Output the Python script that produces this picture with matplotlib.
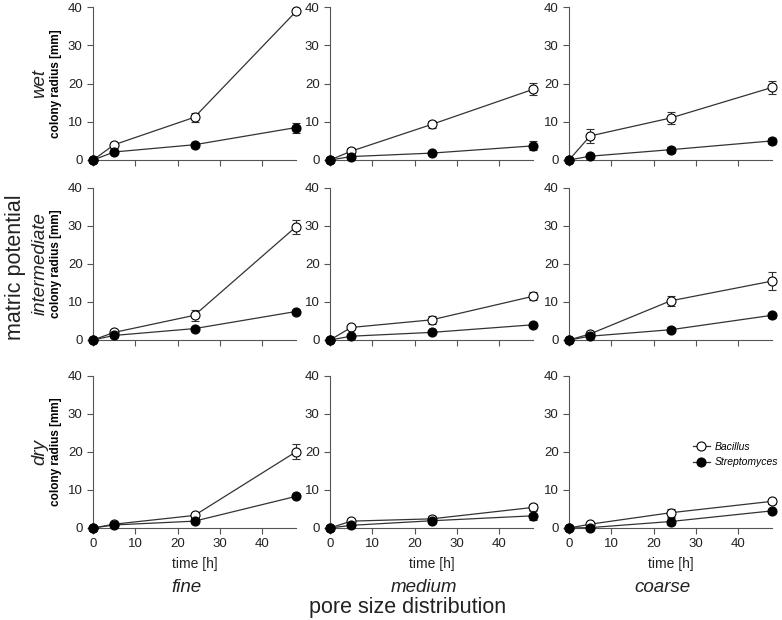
import numpy as np
import matplotlib.pyplot as plt
from matplotlib.lines import Line2D

plt.rcParams['font.family'] = ['Liberation Sans', 'DejaVu Sans']

t = [0, 5, 24, 48]
rows = ['wet', 'intermediate', 'dry']
cols = ['fine', 'medium', 'coarse']

# Bacillus (open) and Streptomyces (filled) mean colony radius, per row/column
bac = {
    ('wet', 'fine'): [0, 4.0, 11.2, 38.9],
    ('wet', 'medium'): [0, 2.3, 9.3, 18.5],
    ('wet', 'coarse'): [0, 6.3, 11.0, 19.0],
    ('intermediate', 'fine'): [0, 2.0, 6.5, 29.8],
    ('intermediate', 'medium'): [0, 3.3, 5.3, 11.5],
    ('intermediate', 'coarse'): [0, 1.6, 10.3, 15.5],
    ('dry', 'fine'): [0, 1.0, 3.3, 20.0],
    ('dry', 'medium'): [0, 1.8, 2.4, 5.4],
    ('dry', 'coarse'): [0, 1.0, 4.0, 7.0],
}
bac_err = {
    ('wet', 'fine'): [0, 0.4, 1.2, 0.5],
    ('wet', 'medium'): [0, 0.8, 1.0, 1.6],
    ('wet', 'coarse'): [0, 1.8, 1.5, 1.6],
    ('intermediate', 'fine'): [0, 0.4, 1.5, 1.8],
    ('intermediate', 'medium'): [0, 0.4, 1.0, 1.1],
    ('intermediate', 'coarse'): [0, 0.4, 1.3, 2.3],
    ('dry', 'fine'): [0, 0.3, 0.6, 2.0],
    ('dry', 'medium'): [0, 0.3, 0.8, 0.8],
    ('dry', 'coarse'): [0, 0.3, 1.0, 0.6],
}
strep = {
    ('wet', 'fine'): [0, 2.1, 4.0, 8.5],
    ('wet', 'medium'): [0, 0.9, 1.8, 3.7],
    ('wet', 'coarse'): [0, 1.0, 2.7, 5.0],
    ('intermediate', 'fine'): [0, 1.2, 3.0, 7.5],
    ('intermediate', 'medium'): [0, 1.0, 2.0, 4.0],
    ('intermediate', 'coarse'): [0, 1.0, 2.7, 6.5],
    ('dry', 'fine'): [0, 0.8, 1.8, 8.3],
    ('dry', 'medium'): [0, 0.7, 1.9, 3.2],
    ('dry', 'coarse'): [0, 0.1, 1.7, 4.5],
}
strep_err = {
    ('wet', 'fine'): [0, 0.3, 0.5, 1.3],
    ('wet', 'medium'): [0, 0.3, 0.4, 1.2],
    ('wet', 'coarse'): [0, 0.3, 0.8, 0.8],
    ('intermediate', 'fine'): [0, 0.3, 0.4, 0.4],
    ('intermediate', 'medium'): [0, 0.3, 0.5, 0.5],
    ('intermediate', 'coarse'): [0, 0.3, 0.7, 0.7],
    ('dry', 'fine'): [0, 0.3, 0.4, 0.5],
    ('dry', 'medium'): [0, 0.3, 0.5, 1.2],
    ('dry', 'coarse'): [0, 0.3, 0.8, 0.5],
}

W, H = 782, 620
fig = plt.figure(figsize=(W / 100, H / 100), dpi=100)

col_x = [93, 330, 569]
col_w = 203
row_y = [(7.3, 160), (188, 340), (375.6, 528)]

lc = '#333333'
for i, r in enumerate(rows):
    for j, c in enumerate(cols):
        top, bot = row_y[i]
        ax = fig.add_axes([col_x[j] / W, 1 - bot / H, col_w / W, (bot - top) / H])
        ax.errorbar(t, bac[(r, c)], yerr=bac_err[(r, c)], fmt='-o', color=lc, lw=0.9,
                    mfc='white', mec='black', ms=6.5, mew=0.8, ecolor=lc, elinewidth=0.8,
                    capsize=3, capthick=0.8, clip_on=False, zorder=3)
        ax.errorbar(t, strep[(r, c)], yerr=strep_err[(r, c)], fmt='-o', color=lc, lw=0.9,
                    mfc='black', mec='black', ms=6.5, mew=0.8, ecolor=lc, elinewidth=0.8,
                    capsize=3, capthick=0.8, clip_on=False, zorder=4)
        ax.set_xlim(0, 48)
        ax.set_ylim(0, 40)
        ax.set_xticks([0, 10, 20, 30, 40])
        ax.set_yticks([0, 10, 20, 30, 40])
        for s in ['top', 'right']:
            ax.spines[s].set_visible(False)
        for s in ['left', 'bottom']:
            ax.spines[s].set_color('#555555')
            ax.spines[s].set_linewidth(0.8)
        ax.tick_params(labelsize=9.5, colors='#555555', labelcolor='#222222', width=0.8, length=4)
        if i < 2:
            ax.set_xticklabels([])
        else:
            ax.set_xlabel('time [h]', fontsize=10, color='#222222', labelpad=5)
        if j == 0:
            ax.set_ylabel('colony radius [mm]', fontsize=8.5, fontweight='bold', labelpad=4)
            fig.text(40 / W, 1 - (top + bot) / 2 / H, r, rotation=90, fontsize=13.5,
                     style='italic', ha='center', va='center', color='#222222')
        if i == 2 and j == 2:
            handles = [
                Line2D([], [], color=lc, lw=0.9, marker='o', mfc='white', mec='black', ms=6.5, mew=0.8),
                Line2D([], [], color=lc, lw=0.9, marker='o', mfc='black', mec='black', ms=6.5, mew=0.8),
            ]
            ax.legend(handles, ['Bacillus', 'Streptomyces'], loc='upper left',
                      bbox_to_anchor=(0.585, 0.6), frameon=False,
                      prop={'size': 7.5, 'style': 'italic'}, handlelength=1.6,
                      handletextpad=0.5, labelspacing=0.55, borderpad=0)
        if i == 2:
            fig.text((col_x[j] + col_w / 2 - 8) / W, 1 - 588 / H, c, fontsize=13.5,
                     style='italic', ha='center', va='center', color='#222222')

fig.text(16 / W, 1 - 267 / H, 'matric potential', rotation=90, fontsize=15.5,
         ha='center', va='center', color='#222222')
fig.text(408 / W, 1 - 607 / H, 'pore size distribution', fontsize=15.5,
         ha='center', va='center', color='#222222')

fig.savefig('out.png', dpi=100)
